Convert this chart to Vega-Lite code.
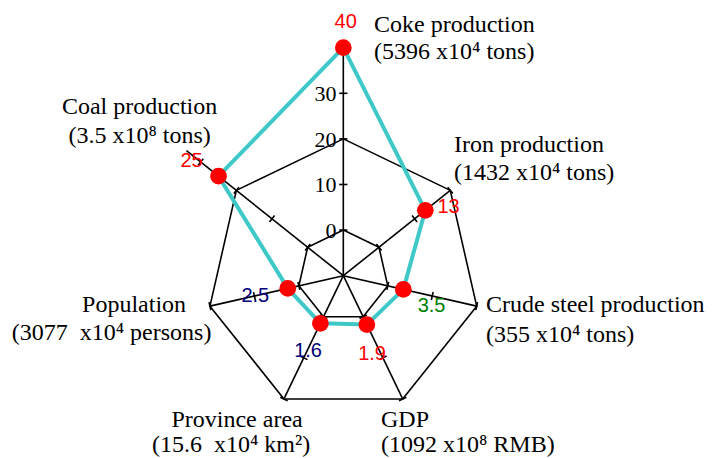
{
  "$schema": "https://vega.github.io/schema/vega-lite/v6.json",
  "width": 716,
  "height": 458,
  "autosize": {"type": "none"},
  "padding": 0,
  "background": "white",
  "config": {"view": {"stroke": null}},
  "datasets": {
    "values": [
      {"i": 0, "axis": "Coke production", "value": 40, "label": "40"},
      {"i": 1, "axis": "Iron production", "value": 13, "label": "13"},
      {"i": 2, "axis": "Crude steel production", "value": 3.5, "label": "3.5"},
      {"i": 3, "axis": "GDP", "value": 1.9, "label": "1.9"},
      {"i": 4, "axis": "Province area", "value": 1.6, "label": "1.6"},
      {"i": 5, "axis": "Population", "value": 2.5, "label": "2.5"},
      {"i": 6, "axis": "Coal production", "value": 25, "label": "25"}
    ],
    "titles": [
      {"i": 0, "line": 1, "text": "Coke production"},
      {"i": 0, "line": 2, "text": "(5396 x10⁴ tons)"},
      {"i": 1, "line": 1, "text": "Iron production"},
      {"i": 1, "line": 2, "text": "(1432 x10⁴ tons)"},
      {"i": 2, "line": 1, "text": "Crude steel production"},
      {"i": 2, "line": 2, "text": "(355 x10⁴ tons)"},
      {"i": 3, "line": 1, "text": "GDP"},
      {"i": 3, "line": 2, "text": "(1092 x10⁸ RMB)"},
      {"i": 4, "line": 1, "text": "Province area"},
      {"i": 4, "line": 2, "text": "(15.6 \u00a0x10⁴ km²)"},
      {"i": 5, "line": 1, "text": "Population"},
      {"i": 5, "line": 2, "text": "(3077 \u00a0x10⁴ persons)"},
      {"i": 6, "line": 1, "text": "Coal production"},
      {"i": 6, "line": 2, "text": "(3.5 x10⁸ tons)"}
    ]
  },
  "encoding": {
    "x": {"field": "x", "type": "quantitative", "axis": null, "scale": {"domain": [-75.29, 81.73], "nice": false, "zero": false}},
    "y": {"field": "y", "type": "quantitative", "axis": null, "scale": {"domain": [-39.98, 60.46], "nice": false, "zero": false}}
  },
  "layer": [
    {
      "data": {"name": "values"},
      "transform": [
        {"calculate": "PI/2 - datum.i*2*PI/7", "as": "a"},
        {"calculate": "PI/2 - (datum.i+1)*2*PI/7", "as": "a2"},
        {"calculate": "10*cos(datum.a)", "as": "x"},
        {"calculate": "10*sin(datum.a)", "as": "y"},
        {"calculate": "10*cos(datum.a2)", "as": "x2"},
        {"calculate": "10*sin(datum.a2)", "as": "y2"}
      ],
      "mark": {"type": "rule", "color": "black", "strokeWidth": 1.6, "strokeCap": "round"},
      "encoding": {"x2": {"field": "x2"}, "y2": {"field": "y2"}}
    },
    {
      "data": {"name": "values"},
      "transform": [
        {"calculate": "PI/2 - datum.i*2*PI/7", "as": "a"},
        {"calculate": "PI/2 - (datum.i+1)*2*PI/7", "as": "a2"},
        {"calculate": "30*cos(datum.a)", "as": "x"},
        {"calculate": "30*sin(datum.a)", "as": "y"},
        {"calculate": "30*cos(datum.a2)", "as": "x2"},
        {"calculate": "30*sin(datum.a2)", "as": "y2"}
      ],
      "mark": {"type": "rule", "color": "black", "strokeWidth": 1.6, "strokeCap": "round"},
      "encoding": {"x2": {"field": "x2"}, "y2": {"field": "y2"}}
    },
    {
      "data": {"name": "values"},
      "transform": [
        {"calculate": "PI/2 - datum.i*2*PI/7", "as": "a"},
        {"calculate": "datum.i == 0 ? 40 : (datum.i == 6 ? 34 : 20)", "as": "end"},
        {"calculate": "0", "as": "x"},
        {"calculate": "0", "as": "y"},
        {"calculate": "(datum.end+10)*cos(datum.a)", "as": "x2"},
        {"calculate": "(datum.end+10)*sin(datum.a)", "as": "y2"}
      ],
      "mark": {"type": "rule", "color": "black", "strokeWidth": 1.6},
      "encoding": {"x2": {"field": "x2"}, "y2": {"field": "y2"}}
    },
    {
      "data": {"name": "values"},
      "transform": [
        {"calculate": "PI/2 - datum.i*2*PI/7", "as": "a"},
        {"calculate": "datum.i == 0 || datum.i == 6 ? [0, 10, 20, 30] : [0, 10, 20]", "as": "levels"},
        {"flatten": ["levels"], "as": ["lv"]},
        {"calculate": "(datum.lv+10)*cos(datum.a) + 0.9*sin(datum.a)", "as": "x"},
        {"calculate": "(datum.lv+10)*sin(datum.a) - 0.9*cos(datum.a)", "as": "y"},
        {"calculate": "(datum.lv+10)*cos(datum.a) - 0.9*sin(datum.a)", "as": "x2"},
        {"calculate": "(datum.lv+10)*sin(datum.a) + 0.9*cos(datum.a)", "as": "y2"}
      ],
      "mark": {"type": "rule", "color": "black", "strokeWidth": 1.6},
      "encoding": {"x2": {"field": "x2"}, "y2": {"field": "y2"}}
    },
    {
      "data": {"name": "values"},
      "transform": [
        {"filter": "datum.i == 0"},
        {"calculate": "[0, 10, 20, 30]", "as": "levels"},
        {"flatten": ["levels"], "as": ["lv"]},
        {"calculate": "-6.8/4.56", "as": "x"},
        {"calculate": "datum.lv + 10 - 0.2", "as": "y"}
      ],
      "mark": {"type": "text", "align": "right", "baseline": "middle", "font": "Liberation Serif", "fontSize": 22, "color": "black"},
      "encoding": {"text": {"field": "lv", "type": "quantitative"}}
    },
    {
      "data": {"name": "values"},
      "transform": [
        {"calculate": "(datum.i+1) % 7", "as": "j"},
        {"lookup": "j", "from": {"data": {"name": "values"}, "key": "i", "fields": ["value"]}, "as": ["nv"]},
        {"calculate": "PI/2 - datum.i*2*PI/7", "as": "a"},
        {"calculate": "PI/2 - (datum.i+1)*2*PI/7", "as": "a2"},
        {"calculate": "(datum.value+10)*cos(datum.a)", "as": "x"},
        {"calculate": "(datum.value+10)*sin(datum.a)", "as": "y"},
        {"calculate": "(datum.nv+10)*cos(datum.a2)", "as": "x2"},
        {"calculate": "(datum.nv+10)*sin(datum.a2)", "as": "y2"}
      ],
      "mark": {"type": "rule", "color": "#3ec8c8", "strokeWidth": 4, "strokeCap": "round"},
      "encoding": {"x2": {"field": "x2"}, "y2": {"field": "y2"}}
    },
    {
      "data": {"name": "values"},
      "transform": [
        {"calculate": "PI/2 - datum.i*2*PI/7", "as": "a"},
        {"calculate": "(datum.value+10)*cos(datum.a)", "as": "x"},
        {"calculate": "(datum.value+10)*sin(datum.a)", "as": "y"}
      ],
      "mark": {"type": "circle", "size": 280, "color": "#ff0000", "opacity": 1}
    },
    {
      "data": {"name": "values"},
      "transform": [
        {"calculate": "PI/2 - datum.i*2*PI/7", "as": "a"},
        {"calculate": "(datum.value+10)*cos(datum.a) + [2.4, 23.2, 28.2, 5.2, -12.3, -32.4, -27][datum.i]/4.56", "as": "x"},
        {"calculate": "(datum.value+10)*sin(datum.a) - [-19.7, 2.4, 22.3, 35.4, 33.3, 13.3, -9.5][datum.i]/4.56", "as": "y"}
      ],
      "mark": {"type": "text", "align": "center", "baseline": "alphabetic", "font": "Liberation Sans", "fontSize": 20},
      "encoding": {
        "text": {"field": "label", "type": "nominal"},
        "color": {"field": "axis", "type": "nominal", "legend": null, "scale": {"domain": ["Coke production", "Iron production", "Crude steel production", "GDP", "Province area", "Population", "Coal production"], "range": ["#ff0000", "#ff0000", "#008000", "#ff0000", "#000080", "#000080", "#ff0000"]}}
      }
    },
    {
      "data": {"name": "titles"},
      "transform": [
        {"filter": "datum.i <= 3"},
        {"calculate": "PI/2 - datum.i*2*PI/7", "as": "a"},
        {"calculate": "30*cos(datum.a) + [[30.7,30.7],[3.7,3.7],[9.3,9.3],[-21.7,-21.7]][datum.i][datum.line-1]/4.56", "as": "x"},
        {"calculate": "30*sin(datum.a) - [[-107.2,-79.6],[-38.7,-10.4],[5.9,35.6],[27.7,52.7]][datum.i][datum.line-1]/4.56", "as": "y"}
      ],
      "mark": {"type": "text", "align": "left", "baseline": "alphabetic", "font": "Liberation Serif", "fontSize": 24, "color": "black"},
      "encoding": {"text": {"field": "text", "type": "nominal"}}
    },
    {
      "data": {"name": "titles"},
      "transform": [
        {"filter": "datum.i >= 4"},
        {"calculate": "PI/2 - datum.i*2*PI/7", "as": "a"},
        {"calculate": "30*cos(datum.a) + [[-46.9,-52.9],[-75.9,-98.4],[-96.8,-96.8]][datum.i-4][datum.line-1]/4.56", "as": "x"},
        {"calculate": "30*sin(datum.a) - [[27.7,52.7],[5.9,33.9],[-76.4,-47.4]][datum.i-4][datum.line-1]/4.56", "as": "y"}
      ],
      "mark": {"type": "text", "align": "center", "baseline": "alphabetic", "font": "Liberation Serif", "fontSize": 24, "color": "black"},
      "encoding": {"text": {"field": "text", "type": "nominal"}}
    }
  ]
}
